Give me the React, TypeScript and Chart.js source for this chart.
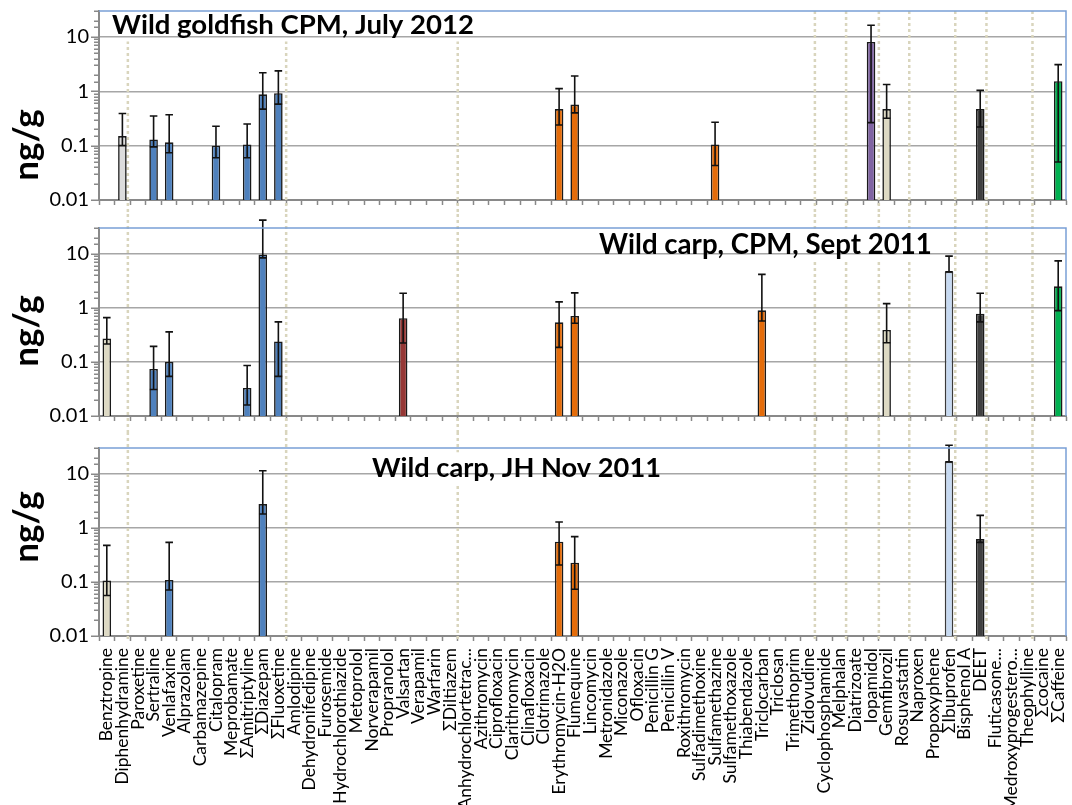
import React, { useEffect, useRef } from 'react';
import { Chart, registerables } from 'chart.js';

Chart.register(...registerables);

const FONT = 'Lato, "Noto Sans", "DejaVu Sans", sans-serif';

// ---------- categories ----------
const compounds: string[] = [
  'Benztropine', 'Diphenhydramine', 'Paroxetine', 'Sertraline', 'Venlafaxine', 'Alprazolam',
  'Carbamazepine', 'Citalopram', 'Meprobamate', 'ΣAmitriptyline', 'ΣDiazepam', 'ΣFluoxetine',
  'Amlodipine', 'Dehydronifedipine', 'Furosemide', 'Hydrochlorothiazide', 'Metoprolol',
  'Norverapamil', 'Propranolol', 'Valsartan', 'Verapamil', 'Warfarin', 'ΣDiltiazem',
  'Anhydrochlortetrac...', 'Azithromycin', 'Ciprofloxacin', 'Clarithromycin', 'Clinafloxacin',
  'Clotrimazole', 'Erythromycin-H2O', 'Flumequine', 'Lincomycin', 'Metronidazole', 'Miconazole',
  'Ofloxacin', 'Penicillin G', 'Penicillin V', 'Roxithromycin', 'Sulfadimethoxine',
  'Sulfamethazine', 'Sulfamethoxazole', 'Thiabendazole', 'Triclocarban', 'Triclosan',
  'Trimethoprim', 'Zidovudine', 'Cyclophosphamide', 'Melphalan', 'Diatrizoate', 'Iopamidol',
  'Gemfibrozil', 'Rosuvastatin', 'Naproxen', 'Propoxyphene', 'ΣIbuprofen', 'Bisphenol A', 'DEET',
  'Fluticasone...', 'Medroxyprogestero...', 'Theophylline', 'Σcocaine', 'ΣCaffeine',
];

// dotted separators between compound classes (category position of the boundary)
const classBreaks = [1.85, 12, 23, 45.9, 47.9, 50, 51.95, 54.9, 56.9, 59.85];

const GREY = '#DCDCDC';
const BEIGE = '#DDD9C4';
const BLUE = '#4F81BD';
const ORANGE = '#E46C0A';
const DARKRED = '#953735';
const PURPLE = '#8064A2';
const DARK = '#404040';
const GREEN = '#00B050';
const LIGHTBLUE = '#C6D9F1';

// ---------- Panel 1: Wild goldfish CPM, July 2012 ----------
const goldfishNames = ['Diphenhydramine', 'Sertraline', 'Venlafaxine', 'Citalopram', 'ΣAmitriptyline', 'ΣDiazepam', 'ΣFluoxetine', 'Erythromycin-H2O', 'Flumequine', 'Sulfamethazine', 'Iopamidol', 'Gemfibrozil', 'DEET', 'ΣCaffeine'];
const goldfishMean = [0.15, 0.13, 0.115, 0.1, 0.105, 0.88, 0.92, 0.47, 0.57, 0.105, 8.1, 0.47, 0.47, 1.53];
const goldfishLow = [0.1, 0.095, 0.074, 0.06, 0.06, 0.47, 0.58, 0.24, 0.4, 0.043, 0.265, 0.32, 0.22, 0.05];
const goldfishHigh = [0.39, 0.35, 0.37, 0.227, 0.25, 2.2, 2.37, 1.12, 1.91, 0.27, 16.4, 1.33, 1.04, 3.1];
const goldfishColors = [GREY, BLUE, BLUE, BLUE, BLUE, BLUE, BLUE, ORANGE, ORANGE, ORANGE, PURPLE, BEIGE, DARK, GREEN];

// ---------- Panel 2: Wild carp, CPM, Sept 2011 ----------
const septNames = ['Benztropine', 'Sertraline', 'Venlafaxine', 'ΣAmitriptyline', 'ΣDiazepam', 'ΣFluoxetine', 'Valsartan', 'Erythromycin-H2O', 'Flumequine', 'Triclocarban', 'Gemfibrozil', 'ΣIbuprofen', 'DEET', 'ΣCaffeine'];
const septMean = [0.27, 0.074, 0.1, 0.033, 9.7, 0.24, 0.645, 0.54, 0.71, 0.9, 0.39, 4.67, 0.78, 2.5];
const septLow = [0.214, 0.031, 0.054, 0.016, 8.4, 0.054, 0.224, 0.186, 0.52, 0.57, 0.227, 4.67, 0.55, 0.89];
const septHigh = [0.66, 0.194, 0.36, 0.086, 42, 0.55, 1.86, 1.29, 1.89, 4.17, 1.2, 9.06, 1.86, 7.4];
const septColors = [BEIGE, BLUE, BLUE, BLUE, BLUE, BLUE, DARKRED, ORANGE, ORANGE, ORANGE, BEIGE, LIGHTBLUE, DARK, GREEN];

// ---------- Panel 3: Wild carp, JH Nov 2011 ----------
const jhNames = ['Benztropine', 'Venlafaxine', 'ΣDiazepam', 'Erythromycin-H2O', 'Flumequine', 'ΣIbuprofen', 'DEET'];
const jhMean = [0.106, 0.109, 2.75, 0.556, 0.227, 16.7, 0.62];
const jhLow = [0.056, 0.071, 1.8, 0.206, 0.073, 16.7, 0.54];
const jhHigh = [0.475, 0.54, 11.4, 1.28, 0.69, 33.8, 1.7];
const jhColors = [BEIGE, BLUE, BLUE, ORANGE, ORANGE, LIGHTBLUE, DARK];

function spread<T>(names: string[], vals: T[]): (T | null)[] {
  const out: (T | null)[] = compounds.map(() => null);
  names.forEach((n, i) => {
    out[compounds.indexOf(n)] = vals[i];
  });
  return out;
}

const isPow10 = (v: number) => {
  if (!(v > 0)) return false;
  const l = Math.log10(v);
  return Math.abs(l - Math.round(l)) < 1e-6;
};

type PanelCfg = {
  top: number;
  height: number;
  padTop: number;
  xHeight: number;
  showLabels: boolean;
  names: string[];
  mean: number[];
  low: number[];
  high: number[];
  colors: string[];
  title: string;
  titleCx: number;
  titleBase: number;
  titleWidth: number;
  ylabelCy: number;
  lineFromArea: boolean;
  lineToAxis: boolean;
};

const panels: PanelCfg[] = [
  {
    top: 0, height: 214, padTop: 11, xHeight: 14, showLabels: false,
    names: goldfishNames, mean: goldfishMean, low: goldfishLow, high: goldfishHigh, colors: goldfishColors,
    title: 'Wild goldfish CPM, July 2012', titleCx: 293, titleBase: 34, titleWidth: 362, ylabelCy: 145,
    lineFromArea: true, lineToAxis: false,
  },
  {
    top: 214, height: 218, padTop: 14, xHeight: 16, showLabels: false,
    names: septNames, mean: septMean, low: septLow, high: septHigh, colors: septColors,
    title: 'Wild carp, CPM, Sept 2011', titleCx: 765.5, titleBase: 39.5, titleWidth: 333, ylabelCy: 117,
    lineFromArea: false, lineToAxis: false,
  },
  {
    top: 432, height: 373, padTop: 16, xHeight: 169, showLabels: true,
    names: jhNames, mean: jhMean, low: jhLow, high: jhHigh, colors: jhColors,
    title: 'Wild carp, JH Nov 2011', titleCx: 516.5, titleBase: 44.7, titleWidth: 289, ylabelCy: 95,
    lineFromArea: false, lineToAxis: true,
  },
];

function titleGeom(ctx: CanvasRenderingContext2D, p: PanelCfg) {
  ctx.save();
  ctx.font = `bold 26px ${FONT}`;
  const w0 = ctx.measureText(p.title).width;
  ctx.restore();
  const size = (26 * p.titleWidth) / w0;
  return {
    size,
    x: p.titleCx - p.titleWidth / 2 - 4,
    y: p.titleBase - size * 0.9,
    w: p.titleWidth + 8,
    h: size * 1.17,
  };
}

function makePlugin(p: PanelCfg) {
  return {
    id: 'panelDecor',
    beforeDatasetsDraw(chart: any) {
      const { ctx, chartArea } = chart;
      const x = chart.scales.x;
      const top = p.lineFromArea ? chartArea.top : 0;
      const bottom = p.lineToAxis ? chartArea.bottom + 6 : chart.height;
      const g = titleGeom(ctx, p);
      ctx.save();
      ctx.beginPath();
      ctx.rect(0, 0, chart.width, chart.height);
      ctx.rect(g.x, g.y, g.w, g.h);
      ctx.clip('evenodd');
      ctx.strokeStyle = '#D9D5BD';
      ctx.lineWidth = 2.5;
      ctx.setLineDash([3, 3]);
      classBreaks.forEach((b) => {
        const px = x.getPixelForValue(b - 0.5);
        ctx.beginPath();
        ctx.moveTo(px, top);
        ctx.lineTo(px, bottom);
        ctx.stroke();
      });
      ctx.restore();
    },
    afterDatasetsDraw(chart: any) {
      const ds: any = chart.data.datasets[0];
      const meta = chart.getDatasetMeta(0);
      const y = chart.scales.y;
      const ctx = chart.ctx;
      ctx.save();
      ctx.strokeStyle = '#111111';
      ctx.lineWidth = 1.6;
      meta.data.forEach((el: any, i: number) => {
        if (ds.data[i] == null) return;
        const lo = y.getPixelForValue(ds.errLow[i]);
        const hi = y.getPixelForValue(ds.errHigh[i]);
        const cx = el.x;
        const hw = el.width / 2 - 0.5;
        ctx.beginPath();
        ctx.moveTo(cx, lo);
        ctx.lineTo(cx, hi);
        ctx.moveTo(cx - hw, lo);
        ctx.lineTo(cx + hw, lo);
        ctx.moveTo(cx - hw, hi);
        ctx.lineTo(cx + hw, hi);
        ctx.stroke();
      });
      ctx.restore();
    },
    afterDraw(chart: any) {
      const { ctx, chartArea } = chart;
      const y = chart.scales.y;
      ctx.save();
      // y tick marks (major longer, minor shorter)
      ctx.strokeStyle = '#898989';
      ctx.lineWidth = 1.5;
      y.ticks.forEach((t: any) => {
        const py = Math.round(y.getPixelForValue(t.value)) + 0.25;
        const len = isPow10(t.value) ? 8 : 5;
        ctx.beginPath();
        ctx.moveTo(chartArea.left - len, py);
        ctx.lineTo(chartArea.left, py);
        ctx.stroke();
      });
      // plot frame: top and right in blue
      ctx.strokeStyle = '#7AA0D6';
      ctx.lineWidth = 1.5;
      ctx.beginPath();
      ctx.moveTo(chartArea.left, chartArea.top);
      ctx.lineTo(chartArea.right, chartArea.top);
      ctx.lineTo(chartArea.right, chartArea.bottom);
      ctx.stroke();
      // panel title
      const g = titleGeom(ctx, p);
      ctx.fillStyle = '#000';
      ctx.font = `bold ${g.size}px ${FONT}`;
      ctx.textAlign = 'center';
      ctx.textBaseline = 'alphabetic';
      ctx.fillText(p.title, p.titleCx, p.titleBase);
      // y axis label
      ctx.translate(38, p.ylabelCy);
      ctx.rotate(-Math.PI / 2);
      ctx.font = `bold 35px ${FONT}`;
      ctx.fillText('ng/g', 0, 0);
      ctx.restore();
    },
  };
}

function buildConfig(p: PanelCfg): any {
  return {
    type: 'bar',
    data: {
      labels: compounds,
      datasets: [
        {
          data: spread(p.names, p.mean),
          errLow: spread(p.names, p.low),
          errHigh: spread(p.names, p.high),
          backgroundColor: spread(p.names, p.colors).map((c) => c ?? 'rgba(0,0,0,0)'),
          borderColor: spread(p.names, p.colors).map((c) => (c === LIGHTBLUE ? '#3A3A3A' : '#1A1A1A')),
          borderWidth: 1.6,
          barPercentage: 0.55,
          categoryPercentage: 1,
        },
      ],
    },
    options: {
      animation: false,
      responsive: false,
      maintainAspectRatio: false,
      events: [],
      layout: { padding: { top: p.padTop, right: 6, left: 0, bottom: 0 } },
      plugins: { legend: { display: false }, tooltip: { enabled: false }, title: { display: false } },
      scales: {
        x: {
          type: 'category',
          offset: true,
          grid: {
            display: true,
            drawOnChartArea: false,
            drawTicks: true,
            tickLength: 5,
            tickColor: '#898989',
            tickWidth: 1.5,
            offset: true,
          },
          border: { display: true, color: '#898989', width: 2 },
          ticks: {
            display: p.showLabels,
            autoSkip: false,
            maxRotation: 90,
            minRotation: 90,
            padding: 7,
            color: '#000',
            font: { family: FONT, size: 17.5 },
          },
          afterFit: (s: any) => {
            s.height = p.xHeight;
            s.paddingLeft = 0;
            s.paddingRight = 0;
          },
        },
        y: {
          type: 'logarithmic',
          min: 0.01,
          max: 30,
          grid: {
            drawTicks: false,
            lineWidth: 1.5,
            color: (c: any) =>
              c.tick && isPow10(c.tick.value) && c.tick.value > 0.011 ? '#A6A6A6' : 'rgba(0,0,0,0)',
          },
          border: { display: true, color: '#898989', width: 2 },
          ticks: {
            autoSkip: false,
            padding: 10,
            color: '#000',
            font: { family: FONT, size: 20 },
            callback: (v: any) => (isPow10(Number(v)) ? String(Number(v)) : ''),
          },
          afterFit: (s: any) => {
            s.width = 99;
            s.paddingTop = 0;
            s.paddingBottom = 0;
          },
        },
      },
    },
    plugins: [makePlugin(p)],
  };
}

function Panel({ p }: { p: PanelCfg }) {
  const ref = useRef<HTMLCanvasElement>(null);
  useEffect(() => {
    const chart = new Chart(ref.current as HTMLCanvasElement, buildConfig(p));
    return () => chart.destroy();
  }, [p]);
  return (
    <canvas
      ref={ref}
      width={1072}
      height={p.height}
      style={{ position: 'absolute', left: 0, top: p.top, width: 1072, height: p.height }}
    />
  );
}

export default function App() {
  return (
    <div
      style={{
        position: 'absolute',
        left: 0,
        top: 0,
        width: 1072,
        height: 805,
        overflow: 'hidden',
        background: '#fff',
      }}
    >
      {panels.map((p, i) => (
        <Panel key={i} p={p} />
      ))}
    </div>
  );
}
